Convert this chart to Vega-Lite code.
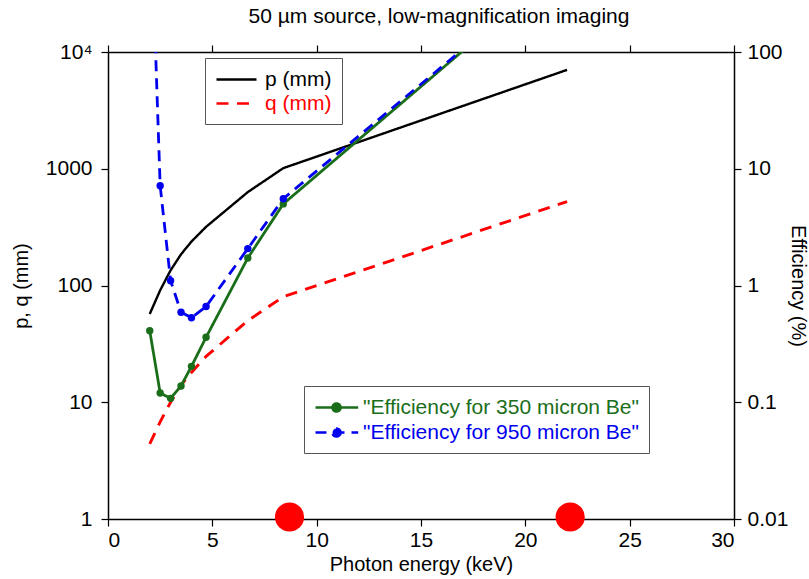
{
  "$schema": "https://vega.github.io/schema/vega-lite/v6.json",
  "width": 626,
  "height": 467,
  "autosize": {"type": "none"},
  "padding": {"left": 108, "top": 52, "right": 75, "bottom": 60},
  "background": "white",
  "config": {
    "font": "Liberation Sans",
    "view": {"stroke": null},
    "axis": {
      "domainColor": "black", "tickColor": "black", "labelColor": "black", "titleColor": "black",
      "labelFontSize": 21, "titleFontSize": 20, "titleFontWeight": "normal",
      "grid": false, "domainWidth": 1.5, "tickWidth": 1.2, "tickSize": 7
    }
  },
  "title": {
    "text": "50 µm source, low-magnification imaging",
    "fontSize": 21, "fontWeight": "normal", "color": "black", "anchor": "middle", "dx": 18, "offset": 14
  },
  "datasets": {
    "pq": [
      {"s": "p (mm)", "E": 2, "v": 57}, {"s": "p (mm)", "E": 2.5, "v": 91}, {"s": "p (mm)", "E": 3, "v": 135},
      {"s": "p (mm)", "E": 3.5, "v": 185}, {"s": "p (mm)", "E": 4, "v": 238}, {"s": "p (mm)", "E": 4.7, "v": 318},
      {"s": "p (mm)", "E": 6.7, "v": 631}, {"s": "p (mm)", "E": 8.4, "v": 1012}, {"s": "p (mm)", "E": 22, "v": 7030},
      {"s": "q (mm)", "E": 2, "v": 4.4}, {"s": "q (mm)", "E": 2.5, "v": 6.8}, {"s": "q (mm)", "E": 3, "v": 10},
      {"s": "q (mm)", "E": 3.5, "v": 14}, {"s": "q (mm)", "E": 4, "v": 18}, {"s": "q (mm)", "E": 4.7, "v": 24.7},
      {"s": "q (mm)", "E": 6.7, "v": 50}, {"s": "q (mm)", "E": 8.4, "v": 80}, {"s": "q (mm)", "E": 22, "v": 524}
    ],
    "eff": [
      {"s": "\"Efficiency for 350 micron Be\"", "E": 2, "eff": 0.41},
      {"s": "\"Efficiency for 350 micron Be\"", "E": 2.5, "eff": 0.12},
      {"s": "\"Efficiency for 350 micron Be\"", "E": 3, "eff": 0.108},
      {"s": "\"Efficiency for 350 micron Be\"", "E": 3.5, "eff": 0.138},
      {"s": "\"Efficiency for 350 micron Be\"", "E": 4, "eff": 0.203},
      {"s": "\"Efficiency for 350 micron Be\"", "E": 4.7, "eff": 0.36},
      {"s": "\"Efficiency for 350 micron Be\"", "E": 6.7, "eff": 1.72},
      {"s": "\"Efficiency for 350 micron Be\"", "E": 8.4, "eff": 5.0},
      {"s": "\"Efficiency for 350 micron Be\"", "E": 22, "eff": 590},
      {"s": "\"Efficiency for 950 micron Be\"", "E": 2, "eff": 2950},
      {"s": "\"Efficiency for 950 micron Be\"", "E": 2.5, "eff": 7.14},
      {"s": "\"Efficiency for 950 micron Be\"", "E": 3, "eff": 1.10},
      {"s": "\"Efficiency for 950 micron Be\"", "E": 3.5, "eff": 0.59},
      {"s": "\"Efficiency for 950 micron Be\"", "E": 4, "eff": 0.53},
      {"s": "\"Efficiency for 950 micron Be\"", "E": 4.7, "eff": 0.66},
      {"s": "\"Efficiency for 950 micron Be\"", "E": 6.7, "eff": 2.07},
      {"s": "\"Efficiency for 950 micron Be\"", "E": 8.4, "eff": 5.53},
      {"s": "\"Efficiency for 950 micron Be\"", "E": 22, "eff": 585}
    ],
    "src": [
      {"E": 8.7, "eff": 0.0104},
      {"E": 22.15, "eff": 0.0104}
    ]
  },
  "layer": [
    {
      "data": {"name": "pq"},
      "mark": {"type": "line", "clip": true},
      "encoding": {
        "x": {
          "field": "E", "type": "quantitative",
          "scale": {"domain": [0, 30], "nice": false},
          "axis": {"orient": "bottom", "values": [0, 5, 10, 15, 20, 25, 30], "title": "Photon energy (keV)", "labelPadding": 3, "titlePadding": 4}
        },
        "y": {
          "field": "v", "type": "quantitative",
          "scale": {"type": "log", "domain": [1, 10000], "nice": false},
          "axis": {"orient": "left", "values": [1, 10, 100, 1000, 10000], "labelExpr": "datum.value >= 10000 ? '10⁴' : format(datum.value, 'd')", "title": "p, q (mm)", "titlePadding": 14, "labelPadding": 9}
        },
        "strokeWidth": {
          "field": "s", "type": "nominal",
          "scale": {"domain": ["p (mm)", "q (mm)"], "range": [2.4, 2.9]},
          "legend": null
        },
        "color": {
          "field": "s", "type": "nominal",
          "scale": {"domain": ["p (mm)", "q (mm)"], "range": ["#000000", "#ff0000"]},
          "legend": {"title": null, "orient": "none", "legendX": 97, "legendY": 6, "symbolType": "M-1,0L3,0", "symbolSize": 400, "symbolStrokeWidth": 2.4, "labelFontSize": 21, "labelOffset": 27, "padding": 10, "rowPadding": 2, "strokeColor": "#555555", "fillColor": "white", "labelLimit": 400,
            "encode": {"labels": {"update": {"fill": {"signal": "datum.value == 'q (mm)' ? '#ff0000' : '#000000'"}}}}}
        },
        "strokeDash": {
          "field": "s", "type": "nominal",
          "scale": {"domain": ["p (mm)", "q (mm)"], "range": [[1, 0], [12, 8.5]]},
          "legend": {"title": null, "orient": "none", "legendX": 97, "legendY": 6, "symbolType": "M-1,0L3,0", "symbolSize": 400, "symbolStrokeWidth": 2.4, "labelFontSize": 21, "labelOffset": 27, "padding": 10, "rowPadding": 2, "strokeColor": "#555555", "fillColor": "white", "labelLimit": 400,
            "encode": {"labels": {"update": {"fill": {"signal": "datum.value == 'q (mm)' ? '#ff0000' : '#000000'"}}}}}
        }
      }
    },
    {
      "layer": [
        {
          "data": {"name": "eff"},
          "mark": {"type": "line", "strokeWidth": 2.8, "clip": true},
          "encoding": {
            "x": {
              "field": "E", "type": "quantitative",
              "scale": {"domain": [0, 30], "nice": false},
              "axis": {"orient": "top", "values": [0, 5, 10, 15, 20, 25, 30], "labels": false, "title": null}
            },
            "y": {
              "field": "eff", "type": "quantitative",
              "scale": {"type": "log", "domain": [0.01, 100], "nice": false},
              "axis": {"orient": "right", "values": [0.01, 0.1, 1, 10, 100], "labelExpr": "datum.value < 1 ? format(datum.value, '.2~f') : format(datum.value, 'd')", "title": "Efficiency (%)", "titlePadding": 0, "labelPadding": 6}
            },
            "color": {
              "field": "s", "type": "nominal",
              "scale": {"domain": ["\"Efficiency for 350 micron Be\"", "\"Efficiency for 950 micron Be\""], "range": ["#1a6e1a", "#0000ee"]},
              "legend": {"title": null, "orient": "none", "legendX": 196, "legendY": 334, "symbolType": "M-1,0L3.27,0M1.5,0A0.4,0.4,0,1,1,0.7,0A0.4,0.4,0,1,1,1.5,0Z", "symbolSize": 400, "symbolStrokeWidth": 2.6, "labelFontSize": 21, "labelOffset": 26, "padding": 10, "rowPadding": 3, "strokeColor": "#555555", "fillColor": "white", "labelLimit": 400,
                "encode": {"symbols": {"update": {"fill": {"signal": "indexof(datum.value, '350') >= 0 ? '#1a6e1a' : '#0000ee'"}}}, "labels": {"update": {"fill": {"signal": "indexof(datum.value, '350') >= 0 ? '#1a6e1a' : '#0000ee'"}}}}}
            },
            "strokeDash": {
              "field": "s", "type": "nominal",
              "scale": {"domain": ["\"Efficiency for 350 micron Be\"", "\"Efficiency for 950 micron Be\""], "range": [[1, 0], [11, 7]]},
              "legend": {"title": null, "orient": "none", "legendX": 196, "legendY": 334, "symbolType": "M-1,0L3.27,0M1.5,0A0.4,0.4,0,1,1,0.7,0A0.4,0.4,0,1,1,1.5,0Z", "symbolSize": 400, "symbolStrokeWidth": 2.6, "labelFontSize": 21, "labelOffset": 26, "padding": 10, "rowPadding": 3, "strokeColor": "#555555", "fillColor": "white", "labelLimit": 400,
                "encode": {"symbols": {"update": {"fill": {"signal": "indexof(datum.value, '350') >= 0 ? '#1a6e1a' : '#0000ee'"}}}, "labels": {"update": {"fill": {"signal": "indexof(datum.value, '350') >= 0 ? '#1a6e1a' : '#0000ee'"}}}}}
            }
          }
        },
        {
          "data": {"name": "eff"},
          "mark": {"type": "point", "filled": true, "size": 55, "opacity": 1, "clip": true},
          "encoding": {
            "x": {"field": "E", "type": "quantitative"},
            "y": {"field": "eff", "type": "quantitative"},
            "color": {"field": "s", "type": "nominal", "legend": null}
          }
        },
        {
          "data": {"name": "src"},
          "mark": {"type": "circle", "size": 850, "color": "#ff0000", "opacity": 1},
          "encoding": {
            "x": {"field": "E", "type": "quantitative"},
            "y": {"field": "eff", "type": "quantitative"}
          }
        }
      ]
    }
  ],
  "resolve": {"scale": {"y": "independent", "color": "independent", "strokeDash": "independent"}, "axis": {"x": "independent"}}
}
